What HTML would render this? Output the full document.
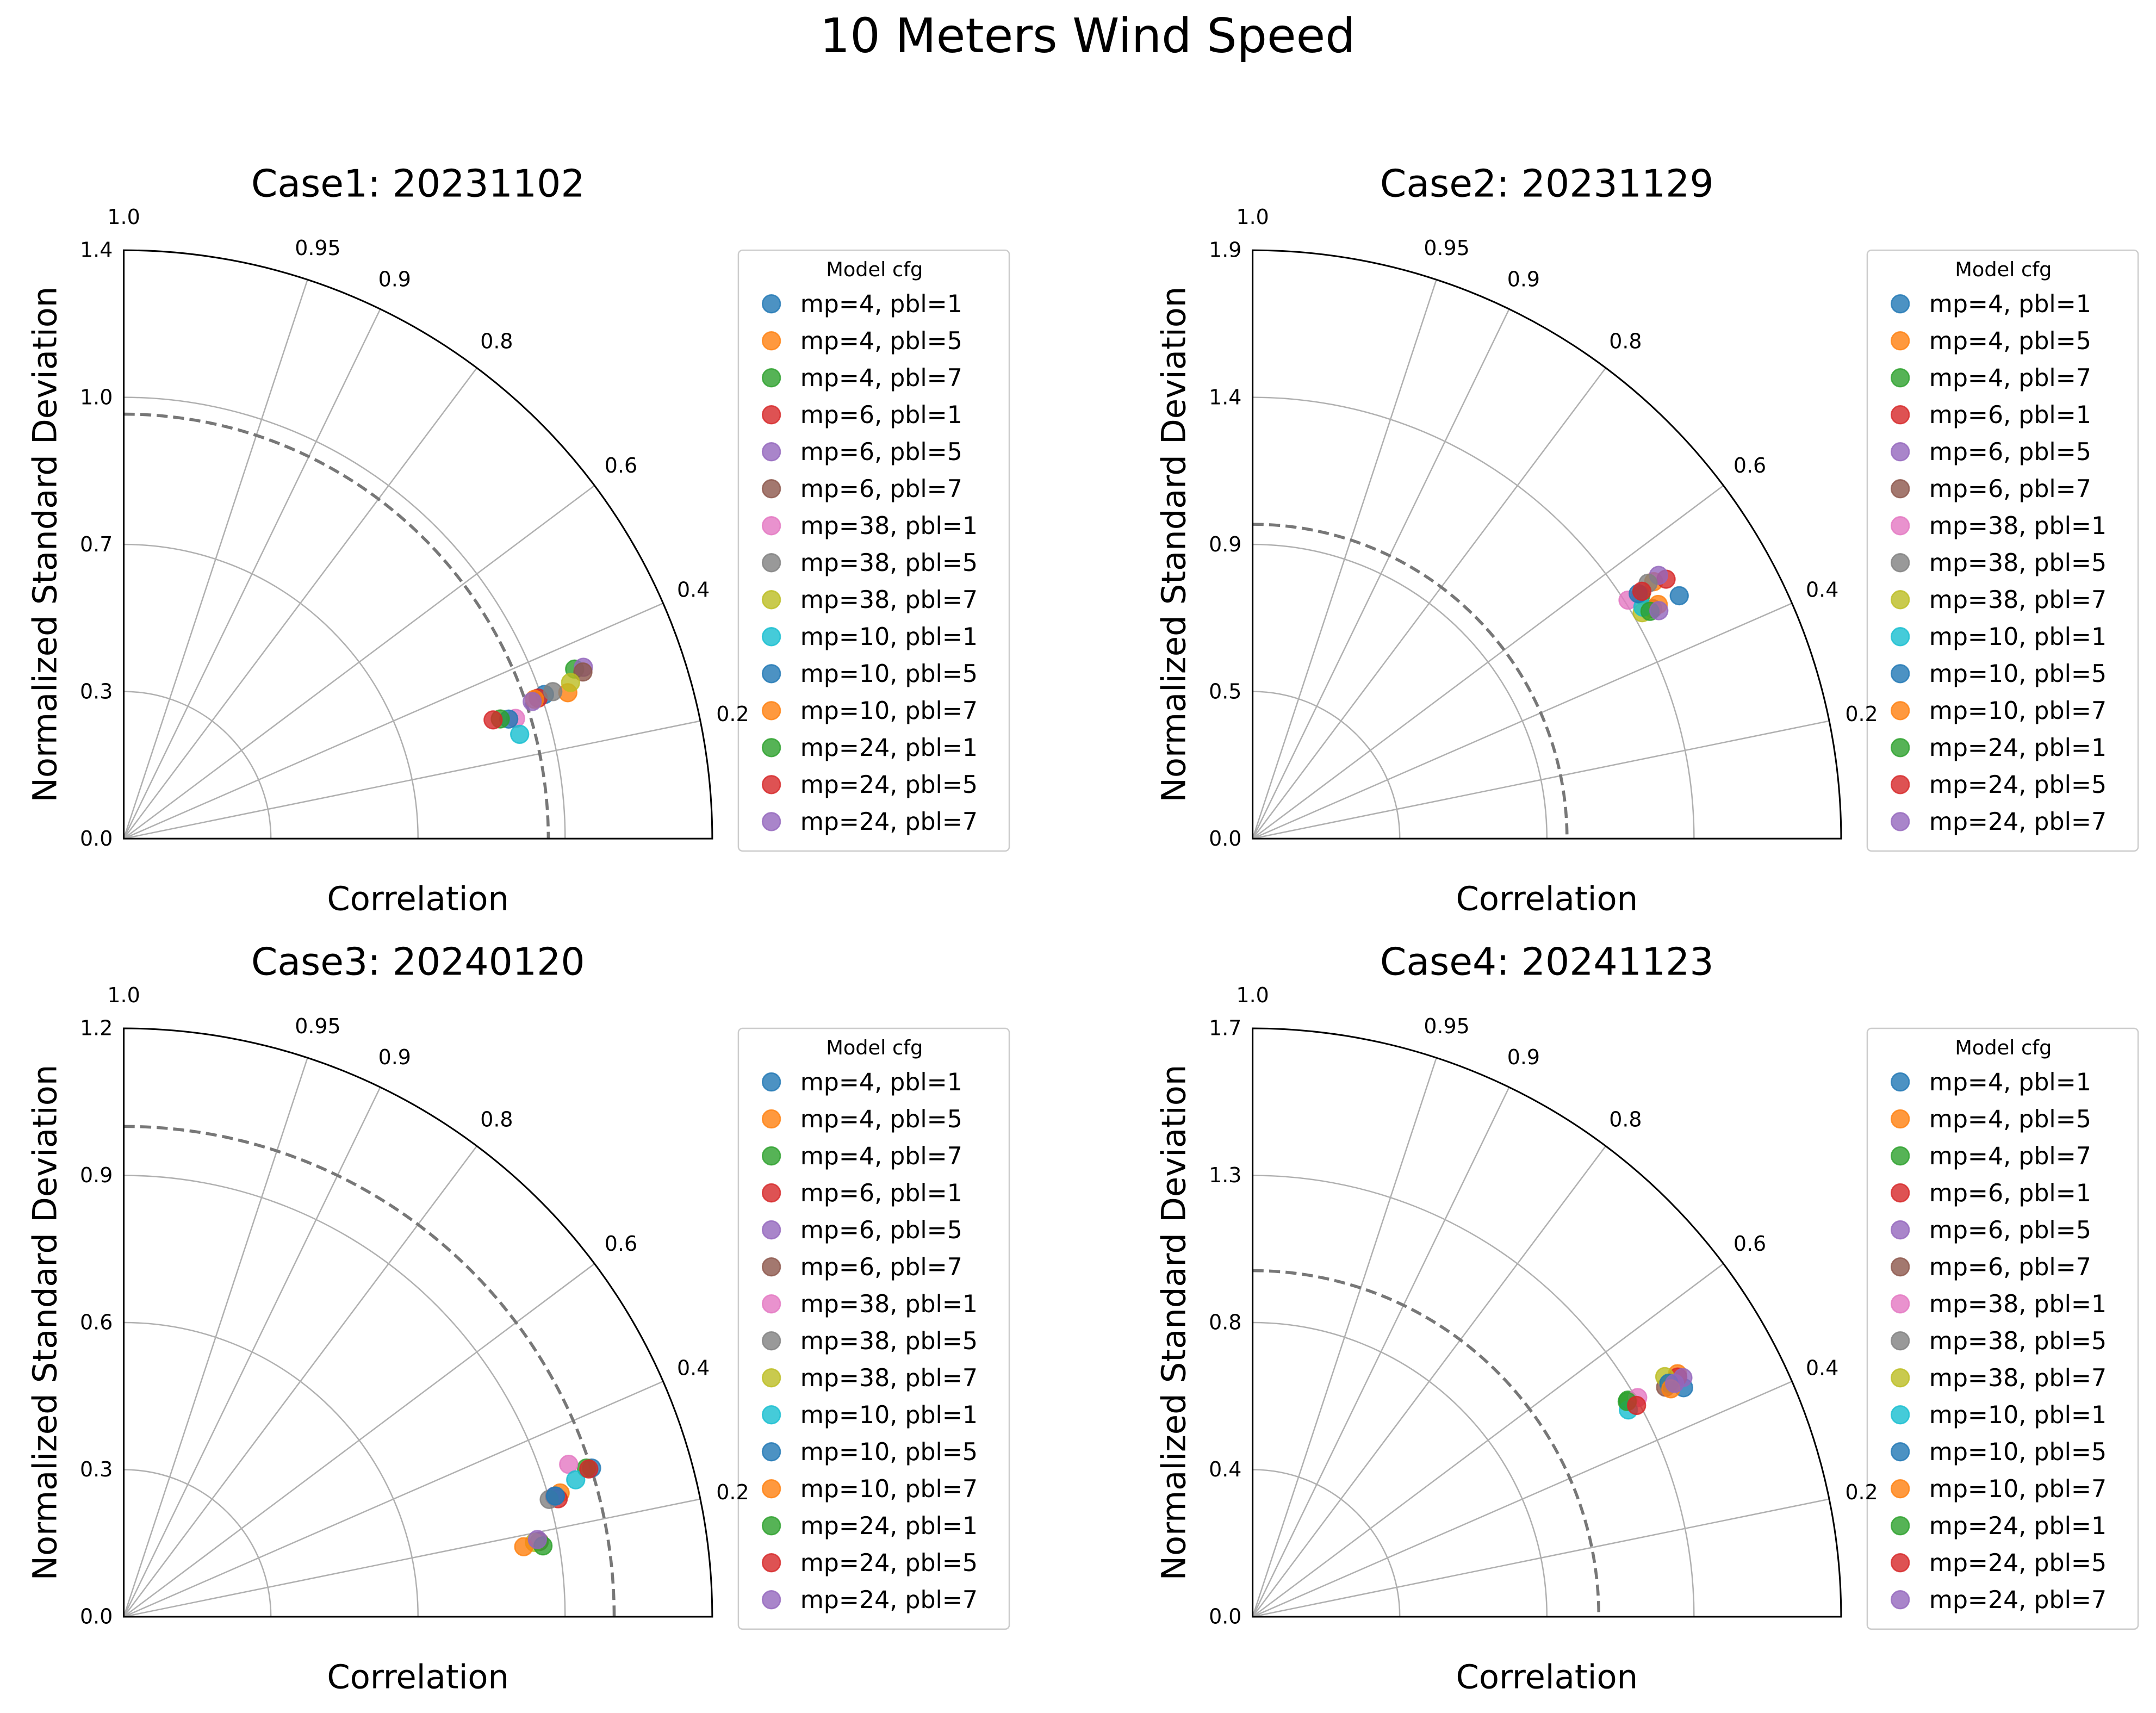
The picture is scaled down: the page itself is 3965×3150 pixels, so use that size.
<!DOCTYPE html>
<html><head><meta charset="utf-8">
<style>
html,body{margin:0;padding:0;background:#fff;}
svg{display:block;font-family:"DejaVu Sans","Liberation Sans",sans-serif;}
</style></head>
<body>
<svg id="fig" width="3965" height="3150" viewBox="0 0 1568 1246" preserveAspectRatio="none" xmlns="http://www.w3.org/2000/svg">
<rect width="1568" height="1246" fill="#fff"/>
<text x="791" y="38" font-size="34.5" text-anchor="middle" fill="#000">10 Meters Wind Speed</text>
</svg>
<script>
const seriesLabels = ["mp=4, pbl=1","mp=4, pbl=5","mp=4, pbl=7","mp=6, pbl=1","mp=6, pbl=5","mp=6, pbl=7","mp=38, pbl=1","mp=38, pbl=5","mp=38, pbl=7","mp=10, pbl=1","mp=10, pbl=5","mp=10, pbl=7","mp=24, pbl=1","mp=24, pbl=5","mp=24, pbl=7"];
const seriesColors = ["#1f77b4","#ff7f0e","#2ca02c","#d62728","#9467bd","#8c564b","#e377c2","#7f7f7f","#bcbd22","#17becf","#1f77b4","#ff7f0e","#2ca02c","#d62728","#9467bd"];
const corrTicks = [0.2,0.4,0.6,0.8,0.9,0.95];
const caseTitles = ["Case1: 20231102","Case2: 20231129","Case3: 20240120","Case4: 20241123"];
const stdMax = [1.4,1.9,1.2,1.7];
const refStd = [1.01,1.015,1.0,1.0];
const case1Std = [1.058,1.112,1.146,1.041,1.167,1.162,0.975,1.079,1.126,0.974,0.959,1.032,0.940,0.923,1.025];
const case1Corr = [0.946,0.950,0.936,0.947,0.937,0.940,0.956,0.946,0.944,0.967,0.955,0.947,0.953,0.952,0.948];
const case2Std = [1.585,1.538,1.480,1.576,1.562,1.490,1.436,1.520,1.454,1.465,1.475,1.512,1.478,1.489,1.504];
const case2Corr = [0.869,0.842,0.847,0.847,0.839,0.867,0.844,0.840,0.865,0.860,0.844,0.866,0.868,0.844,0.872];
const case3Std = [1.001,0.925,0.991,0.918,0.912,0.861,0.959,0.900,0.851,0.963,0.914,0.828,0.867,0.995,0.858];
const case3Corr = [0.953,0.962,0.952,0.965,0.963,0.984,0.946,0.964,0.984,0.957,0.963,0.985,0.986,0.953,0.983];
const case4Std = [1.410,1.414,1.252,1.410,1.422,1.365,1.280,1.377,1.378,1.239,1.379,1.376,1.248,1.266,1.393];
const case4Corr = [0.883,0.868,0.866,0.871,0.874,0.874,0.869,0.873,0.864,0.876,0.872,0.878,0.867,0.876,0.875];
const allStd = [case1Std,case2Std,case3Std,case4Std];
const allCorr = [case1Corr,case2Corr,case3Corr,case4Corr];

const NS = "http://www.w3.org/2000/svg";
const fig = document.getElementById("fig");
function mk(tag, attrs, parent, txt){
  const e = document.createElementNS(NS, tag);
  for (const k in attrs) e.setAttribute(k, attrs[k]);
  if (txt !== undefined) e.textContent = txt;
  (parent||fig).appendChild(e);
  return e;
}
const origins = [[90,610],[911,610],[90,1176],[911,1176]];
const R = 428;
for (let c=0;c<4;c++){
  const [ox,oy] = origins[c];
  const g = mk("g",{});
  
  
  const sc = R/stdMax[c];
  const px = (std,cor)=> ox + std*cor*sc;
  const py = (std,cor)=> oy - std*Math.sqrt(Math.max(0,1-cor*cor))*sc;
  // legend first so axis labels overlay it
  const lx = ox+447, ly = oy-428;
  const lg = mk("g",{},g);
  
  
  mk("rect",{x:lx,y:ly,width:197,height:437,rx:3,fill:"#fff",stroke:"#ccc","stroke-width":1},lg);
  const lt = mk("text",{x:lx+99,y:ly+19,"font-size":14.5,"text-anchor":"middle"},lg,"Model cfg");
  
  
  for (let i=0;i<seriesLabels.length;i++){
    const yy = ly+39+i*26.9;
    const e = mk("g",{},lg);
    
    
    mk("circle",{cx:lx+24,cy:yy,r:6.5,fill:seriesColors[i],"fill-opacity":0.8,stroke:seriesColors[i],"stroke-opacity":0.8},e);
    mk("text",{x:lx+45,y:yy+6,"font-size":17.5},e,seriesLabels[i]);
  }
  const t = mk("text",{x:ox+214,y:oy-467,"font-size":27.5,"text-anchor":"middle"},g,caseTitles[c]);
  
  
  for (let i=1;i<=3;i++){
    const r = R*i/4;
    const a = mk("path",{d:`M${ox} ${oy-r} A${r} ${r} 0 0 1 ${ox+r} ${oy}`,fill:"none",stroke:"#b0b0b0","stroke-width":1},g);
    
    
  }
  corrTicks.forEach(cv=>{
    const ang = Math.asin(cv);
    const l = mk("line",{x1:ox,y1:oy,x2:ox+R*Math.cos(ang),y2:oy-R*Math.sin(ang),stroke:"#b0b0b0","stroke-width":1},g);
    
    
    const lb = mk("text",{x:ox+452*Math.cos(ang),y:oy-452*Math.sin(ang)+5,"font-size":15,"text-anchor":"middle"},g,String(cv));
    
    
  });
  const top = mk("text",{x:ox,y:oy-452+5,"font-size":15,"text-anchor":"middle"},g,"1.0");
  
  
  const rr = refStd[c]*sc;
  const d = mk("path",{d:`M${ox} ${oy-rr} A${rr} ${rr} 0 0 1 ${ox+rr} ${oy}`,fill:"none",stroke:"#777","stroke-width":2.2,"stroke-dasharray":"8,4"},g);
  
  
  const f = mk("path",{d:`M${ox} ${oy-R} A${R} ${R} 0 0 1 ${ox+R} ${oy} L${ox} ${oy} Z`,fill:"none",stroke:"#000","stroke-width":1.2},g);
  
  
  for (let i=0;i<=4;i++){
    const v = stdMax[c]*i/4;
    const s = (Math.round(v*10-1e-9)/10).toFixed(1);
    const tl = mk("text",{x:ox-8,y:oy-R*i/4+5,"font-size":15,"text-anchor":"end"},g,s);
    
    
  }
  const yl = mk("text",{x:0,y:0,"font-size":24,"text-anchor":"middle",transform:`translate(${ox-49},${oy-214}) rotate(-90)`},g,"Normalized Standard Deviation");
  
  
  const xl = mk("text",{x:ox+214,y:oy+52,"font-size":24,"text-anchor":"middle"},g,"Correlation");
  
  
  for (let i=0;i<seriesLabels.length;i++){
    const s = allStd[c][i], k = allCorr[c][i];
    const p = mk("circle",{cx:px(s,k),cy:py(s,k),r:6.5,fill:seriesColors[i],"fill-opacity":0.8,stroke:seriesColors[i],"stroke-opacity":0.8,"stroke-width":1},g);
    
    
  }
}
</script>
</body></html>
